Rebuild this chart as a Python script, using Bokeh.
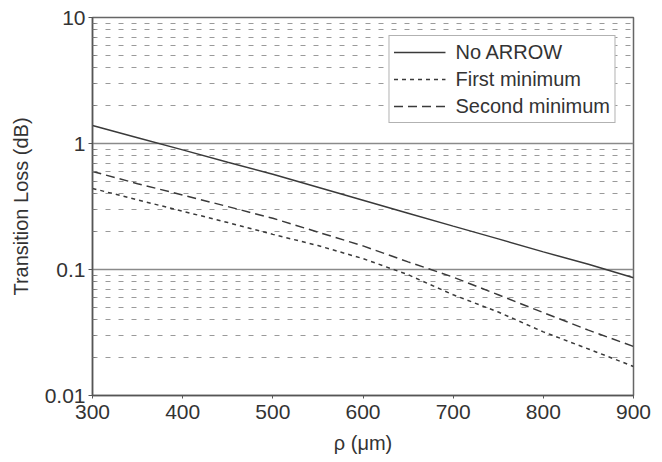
from bokeh.plotting import figure
from bokeh.models import FixedTicker, CustomJSTickFormatter
from bokeh.embed import file_html
from bokeh.resources import INLINE

rho = [300, 350, 400, 450, 500, 550, 600, 650, 700, 750, 800, 850, 900]
no_arrow = [1.39, 1.11, 0.89, 0.71, 0.57, 0.45, 0.355, 0.28, 0.221, 0.175, 0.138, 0.11, 0.086]
first_min = [0.44, 0.357, 0.29, 0.236, 0.19, 0.155, 0.122, 0.091, 0.063, 0.046, 0.032, 0.0234, 0.017]
second_min = [0.60, 0.48, 0.39, 0.316, 0.255, 0.198, 0.154, 0.115, 0.087, 0.063, 0.0455, 0.033, 0.0245]

x_ticks = [300, 400, 500, 600, 700, 800, 900]
y_ticks = [0.01, 0.1, 1, 10]
y_minor = [m * d for d in (0.01, 0.1, 1) for m in range(2, 10)]

FONT = "Liberation Sans"
TXT = "#333333"
LINE = "#3a3a3a"

p = figure(width=662, height=462, y_axis_type="log",
           x_range=(300, 900), y_range=(0.01, 10),
           output_backend="svg", toolbar_location=None,
           min_border_left=92, min_border_right=29,
           min_border_top=17, min_border_bottom=67)

p.background_fill_color = "white"
p.border_fill_color = "white"
p.outline_line_color = "#666666"
p.outline_line_width = 1.5

# axes
p.xaxis.ticker = FixedTicker(ticks=x_ticks)
p.yaxis.ticker = FixedTicker(ticks=y_ticks, minor_ticks=y_minor)
p.yaxis.formatter = CustomJSTickFormatter(code="return String(parseFloat(tick.toPrecision(3)));")
p.xaxis.axis_label = "ρ (μm)"
p.yaxis.axis_label = "Transition Loss (dB)"
for ax in (p.xaxis[0], p.yaxis[0]):
    ax.axis_label_text_font = FONT
    ax.axis_label_text_font_style = "normal"
    ax.axis_label_text_font_size = "20px"
    ax.axis_label_text_color = TXT
    ax.major_label_text_font = FONT
    ax.major_label_text_font_size = "21px"
    ax.major_label_text_color = TXT
    ax.axis_line_color = "#555555"
    ax.axis_line_width = 1.5
    ax.major_tick_line_color = "#555555"
    ax.minor_tick_line_color = "#777777"
p.xaxis.major_tick_in = 0
p.xaxis.major_tick_out = 3
p.xaxis.minor_tick_line_color = None
p.xaxis.major_label_standoff = 6
p.xaxis.axis_label_standoff = 10
p.yaxis.major_tick_in = 0
p.yaxis.major_tick_out = 4
p.yaxis.minor_tick_in = 3
p.yaxis.minor_tick_out = 0
p.yaxis.major_label_standoff = 3
p.yaxis.axis_label_standoff = 10

# grids
p.xgrid.visible = False
p.ygrid.grid_line_color = "#8a8a8a"
p.ygrid.grid_line_width = 1.5
p.ygrid.minor_grid_line_color = "#9a9a9a"
p.ygrid.minor_grid_line_width = 1.2
p.ygrid.minor_grid_line_dash = "5 8"

# curves
p.line(rho, no_arrow, line_color=LINE, line_width=1.5, legend_label="No ARROW")
p.line(rho, first_min, line_color=LINE, line_width=1.5, line_dash="4 4", legend_label="First minimum")
p.line(rho, second_min, line_color=LINE, line_width=1.5, line_dash="9 5", legend_label="Second minimum")

lg = p.legend[0]
lg.location = "top_right"
lg.margin = 18
lg.padding = 4
lg.spacing = 3
lg.glyph_width = 52
lg.glyph_height = 24
lg.label_height = 24
lg.label_standoff = 10
lg.label_text_font = FONT
lg.label_text_font_size = "20px"
lg.label_text_color = TXT
lg.border_line_color = "#666666"
lg.border_line_width = 1
lg.background_fill_color = "white"
lg.background_fill_alpha = 1.0

open("out.html", "w").write(file_html(p, INLINE))
